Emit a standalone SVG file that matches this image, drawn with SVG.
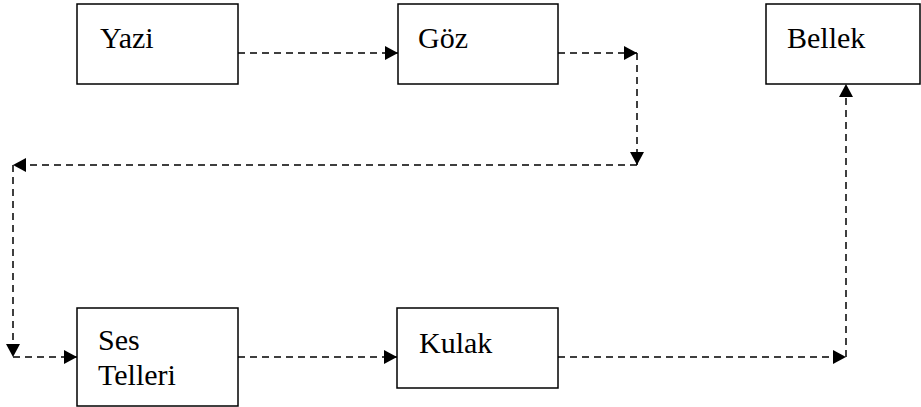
<svg xmlns="http://www.w3.org/2000/svg" width="921" height="407" viewBox="0 0 921 407">
<style>
.box{fill:#fff;stroke:#000;stroke-width:1.5}
.lbl{font-size:30px;fill:#000}
.con{stroke:#000;stroke-width:1.5;stroke-dasharray:7 5;fill:none}
</style>
<defs>
<marker id="ah" markerUnits="userSpaceOnUse" markerWidth="14" markerHeight="14" refX="13" refY="7" orient="auto">
<path d="M0,0 L13,7 L0,14 z" fill="#000"/>
</marker>
</defs>
<rect width="921" height="407" fill="#fff"/>
<g id="connectors" marker-end="url(#ah)">
<line class="con" marker-end="url(#ah)" x1="238" y1="53" x2="398" y2="53"/>
<line class="con" marker-end="url(#ah)" x1="558" y1="53" x2="637" y2="53"/>
<line class="con" marker-end="url(#ah)" x1="637" y1="53" x2="637" y2="165"/>
<line class="con" marker-end="url(#ah)" x1="637" y1="165" x2="13" y2="165"/>
<line class="con" marker-end="url(#ah)" x1="13" y1="165" x2="13" y2="357"/>
<line class="con" marker-end="url(#ah)" x1="13" y1="357" x2="77" y2="357"/>
<line class="con" marker-end="url(#ah)" x1="238" y1="357" x2="397" y2="357"/>
<line class="con" marker-end="url(#ah)" x1="558" y1="357" x2="846" y2="357"/>
<line class="con" marker-end="url(#ah)" x1="846" y1="357" x2="846" y2="84"/>
</g>
<g id="yazi">
<rect class="box" x="77" y="4" width="161" height="80"/>
<text class="lbl" font-family="Times New Roman, Liberation Serif, DejaVu Serif, serif" x="100" y="48">Yazi</text>
</g>
<g id="goz">
<rect class="box" x="398" y="4" width="160" height="80"/>
<text class="lbl" font-family="Times New Roman, Liberation Serif, DejaVu Serif, serif" x="418" y="48">Göz</text>
</g>
<g id="bellek">
<rect class="box" x="766" y="4" width="154" height="80"/>
<text class="lbl" font-family="Times New Roman, Liberation Serif, DejaVu Serif, serif" x="787" y="48">Bellek</text>
</g>
<g id="ses-telleri">
<rect class="box" x="77" y="308" width="161" height="98"/>
<text class="lbl" font-family="Times New Roman, Liberation Serif, DejaVu Serif, serif" x="98" y="350">Ses</text>
<text class="lbl" font-family="Times New Roman, Liberation Serif, DejaVu Serif, serif" x="98" y="385">Telleri</text>
</g>
<g id="kulak">
<rect class="box" x="397" y="308" width="161" height="80"/>
<text class="lbl" font-family="Times New Roman, Liberation Serif, DejaVu Serif, serif" x="419" y="353">Kulak</text>
</g>
</svg>
